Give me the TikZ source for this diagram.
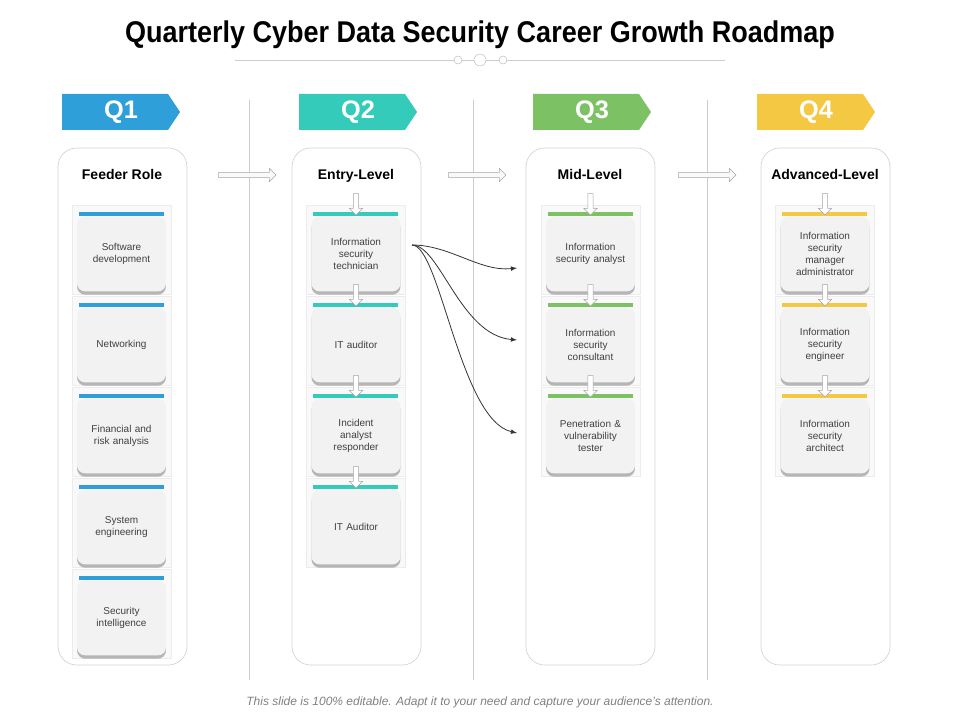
\documentclass[tikz,border=0pt]{standalone}
\usepackage{fontspec}
\setmainfont{Liberation Sans}
\usetikzlibrary{shapes.arrows,shadows}
\definecolor{qone}{HTML}{2E9FD8}
\definecolor{qtwo}{HTML}{34CBBB}
\definecolor{qthree}{HTML}{7CC265}
\definecolor{qfour}{HTML}{F5C843}
\tikzset{
  panel/.style={draw=gray!35, rounded corners=14pt, line width=0.5pt},
  frame/.style={draw=gray!15, fill=gray!5, minimum width=74pt, minimum height=67pt, inner sep=0pt},
  card/.style={fill=gray!10, rounded corners=6pt, minimum width=64pt, minimum height=56pt,
    align=center, text width=60pt, font=\fontsize{7.5}{9}\selectfont, text=black!75,
    drop shadow={shadow xshift=0pt, shadow yshift=-2.5pt, opacity=.55}},
  bigarrow/.style={single arrow, draw=gray!70, fill=gray!5, minimum height=43pt,
    minimum width=10pt, single arrow head extend=2.5pt, inner sep=1.5pt},
  downarrow/.style={single arrow, draw=gray!70, fill=white, rotate=-90, minimum height=16pt,
    minimum width=10pt, single arrow head extend=2.5pt, inner sep=1.5pt},
  heading/.style={font=\bfseries\fontsize{10.5}{12}\selectfont, anchor=base},
  branch/.style={gray!40!black, -latex, line width=0.6pt},
}
\newcommand{\qbanner}[3]{% x, colour, label
  \fill[#2] (#1,94) -- ++(106,0) -- ++(12,18) -- ++(-12,18) -- ++(-106,0) -- cycle;
  \node[text=white, font=\bfseries\fontsize{19}{21}\selectfont] at (#1+59,112) {#3};}
\begin{document}
\begin{tikzpicture}[x=0.75pt, y=-0.75pt]
\useasboundingbox (0,0) rectangle (960,720);
% title
\node[font=\bfseries\fontsize{22.5}{26}\selectfont, xscale=0.9] (title) at (480,35)
  {Quarterly Cyber Data Security Career Growth Roadmap};
\draw[gray!40] (235,60) -- (454,60) (462,60) -- (474,60) (486,60) -- (499,60) (507,60) -- (725,60);
\draw[gray!50] (458,60) circle (3pt) (480,60) circle (4.5pt) (503,60) circle (3pt);
% banners
\qbanner{62}{qone}{Q1}
\qbanner{299}{qtwo}{Q2}
\qbanner{533}{qthree}{Q3}
\qbanner{757}{qfour}{Q4}
% separators
\foreach \x in {249,473,707} \draw[gray!40] (\x,100) -- (\x,680);
% panels and headings
\foreach \x/\t [count=\i] in {58/Feeder Role,292/Entry-Level,526/Mid-Level,761/Advanced-Level}{
  \draw[panel] (\x,148) rectangle (\x+129,665);
  \node[heading] (head\i) at (\x+64,180) {\t};
}
\foreach \x in {246,476,706} \node[bigarrow] at (\x,175) {};
% feeder roles
\foreach \t [count=\j] in {Software\\development, Networking, Financial and\\risk analysis,
    System\\engineering, Security\\intelligence}{
  \pgfmathsetmacro\yy{250+91*(\j-1)}
  \node[frame] (fa\j) at (121.5,\yy) {};
  \node[card] (a\j) at (121.5,\yy+4) {\t};
  \fill[qone] (79,\yy-38) rectangle (164,\yy-34);
}
% entry level
\foreach \t [count=\j] in {Information\\security\\technician, IT auditor, Incident\\analyst\\responder, IT Auditor}{
  \pgfmathsetmacro\yy{250+91*(\j-1)}
  \node[frame] (fb\j) at (356,\yy) {};
  \node[card] (b\j) at (356,\yy+4) {\t};
  \fill[qtwo] (313,\yy-38) rectangle (398,\yy-34);
  \node[downarrow] at (356,\yy-47) {};
}
% mid level
\foreach \t [count=\j] in {Information\\security analyst, Information\\security\\consultant, Penetration \&\\vulnerability\\tester}{
  \pgfmathsetmacro\yy{250+91*(\j-1)}
  \node[frame] (fc\j) at (590.5,\yy) {};
  \node[card] (c\j) at (590.5,\yy+4) {\t};
  \fill[qthree] (548,\yy-38) rectangle (633,\yy-34);
  \node[downarrow] at (590.5,\yy-47) {};
}
% advanced level
\foreach \t [count=\j] in {Information\\security\\manager\\administrator, Information\\security\\engineer, Information\\security\\architect}{
  \pgfmathsetmacro\yy{250+91*(\j-1)}
  \node[frame] (fd\j) at (825,\yy) {};
  \node[card] (d\j) at (825,\yy+4) {\t};
  \fill[qfour] (782,\yy-38) rectangle (867,\yy-34);
  \node[downarrow] at (825,\yy-47) {};
}
% branches
\coordinate (src) at (412,245);
\coordinate (m1) at (517,268);
\coordinate (m2) at (517,340);
\coordinate (m3) at (517,433);
\draw[branch] (src) .. controls (450,245) and (480,272) .. (m1);
\draw[branch] (src) .. controls (440,245) and (460,335) .. (m2);
\draw[branch] (src) .. controls (440,245) and (460,420) .. (m3);
% footer
\node[font=\itshape\fontsize{9}{11}\selectfont, text=gray] (foot) at (480,702)
  {This slide is 100\% editable. Adapt it to your need and capture your audience’s attention.};
\end{tikzpicture}
\end{document}
